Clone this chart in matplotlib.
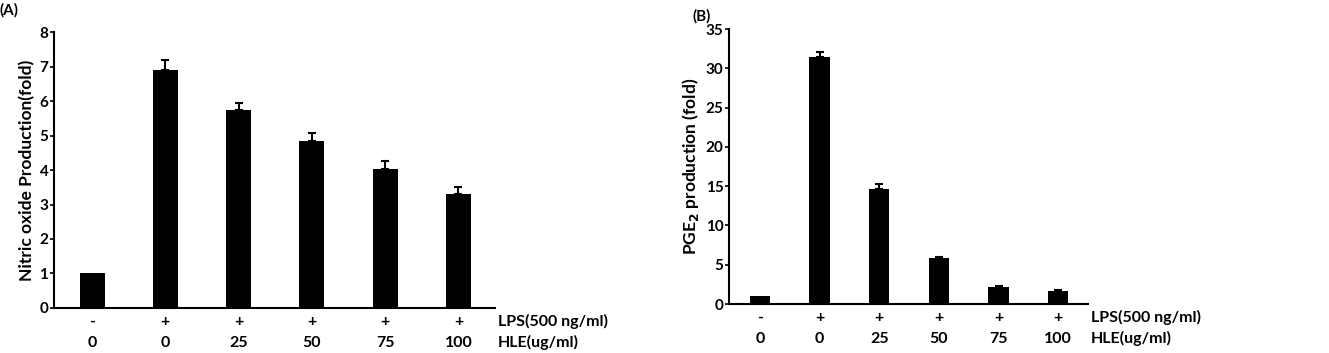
import matplotlib
matplotlib.use("Agg")
import matplotlib.pyplot as plt
import numpy as np

plt.rcParams["font.family"] = ["Lato", "DejaVu Sans"]
plt.rcParams["font.weight"] = "bold"

# treatment rows shown under each bar
lps_marks = ["-", "+", "+", "+", "+", "+"]
hle_doses = ["0", "0", "25", "50", "75", "100"]

# panel A: nitric oxide (fold)
no_mean = [1.0, 6.91, 5.73, 4.85, 4.03, 3.31]
no_err = [0.0, 0.29, 0.21, 0.21, 0.22, 0.20]

# panel B: PGE2 (fold)
pge_mean = [1.0, 31.4, 14.65, 5.85, 2.15, 1.6]
pge_err = [0.0, 0.7, 0.65, 0.17, 0.15, 0.18]


def draw_panel(ax, means, errs, ylim, ystep, ylabel):
    x = np.arange(len(means))
    ax.bar(x, means, width=0.34, color="black", zorder=2)
    has_err = [i for i in x if errs[i] > 0]
    ax.errorbar([x[i] for i in has_err], [means[i] for i in has_err],
                yerr=[np.zeros(len(has_err)), [errs[i] for i in has_err]],
                fmt="none", ecolor="black", elinewidth=1.5, capsize=3,
                capthick=1.5, zorder=3)
    ax.set_xlim(-0.52, 5.5)
    ax.set_ylim(0, ylim)
    ax.set_yticks(np.arange(0, ylim + 0.1, ystep))
    ax.set_xticks([])
    for s in ("top", "right"):
        ax.spines[s].set_visible(False)
    for s in ("left", "bottom"):
        ax.spines[s].set_linewidth(1.5)
    ax.tick_params(axis="y", direction="out", length=3, width=1.2, pad=1,
                   labelsize=11)
    ax.set_ylabel(ylabel, fontsize=12.5, fontweight="bold", labelpad=3)
    for i in x:
        ax.annotate(lps_marks[i], (i, 0), xycoords=("data", "axes fraction"),
                    xytext=(0, -10), textcoords="offset points",
                    ha="center", va="center", fontsize=11.5, fontweight="bold")
        ax.annotate(hle_doses[i], (i, 0), xycoords=("data", "axes fraction"),
                    xytext=(0, -25), textcoords="offset points",
                    ha="center", va="center", fontsize=11.5, fontweight="bold")
    ax.annotate("LPS(500 ng/ml)", (1.0, 0), xycoords="axes fraction",
                xytext=(2, -10), textcoords="offset points",
                ha="left", va="center", fontsize=11.5, fontweight="bold")
    ax.annotate("HLE(ug/ml)", (1.0, 0), xycoords="axes fraction",
                xytext=(2, -25), textcoords="offset points",
                ha="left", va="center", fontsize=11.5, fontweight="bold")


fig = plt.figure(figsize=(13.29, 3.53), dpi=100)
axA = fig.add_axes([0.0406, 0.1275, 0.3319, 0.7818])
axB = fig.add_axes([0.5485, 0.1388, 0.2702, 0.7790])

draw_panel(axA, no_mean, no_err, 8, 1, "Nitric oxide Production(fold)")
draw_panel(axB, pge_mean, pge_err, 35, 5, "PGE$_\\mathbf{2}$ production (fold)")

fig.text(0.0, 0.972, "(A)", ha="left", va="center", fontsize=11, fontweight="bold")
fig.text(0.5207, 0.955, "(B)", ha="left", va="center", fontsize=11, fontweight="bold")

fig.savefig("out.png", dpi=100)
